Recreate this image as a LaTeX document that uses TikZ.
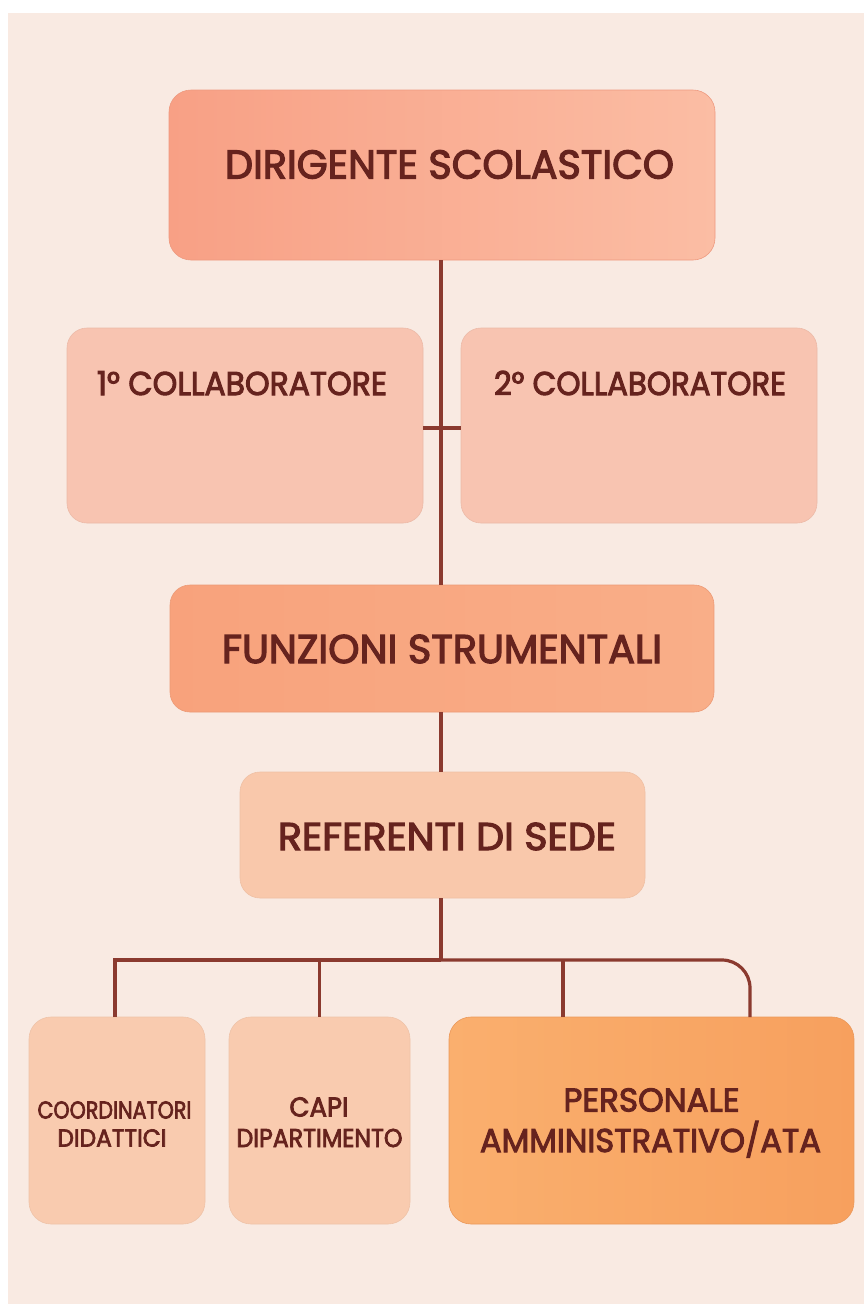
\documentclass[tikz,border=0pt]{standalone}
\usepackage{fontspec}
\usepackage{graphicx}
\newfontfamily\pf[FakeBold=3]{Poppins}
\definecolor{bgc}{HTML}{F9EAE2}
\definecolor{txc}{HTML}{66231E}
\definecolor{lnc}{HTML}{8B3A2F}
\definecolor{dirL}{HTML}{F8A085}
\definecolor{dirR}{HTML}{FBBDA4}
\definecolor{colc}{HTML}{F8C4B1}
\definecolor{funL}{HTML}{F8A27C}
\definecolor{funR}{HTML}{F9AE88}
\definecolor{refc}{HTML}{F9C8AB}
\definecolor{botc}{HTML}{F9CBAF}
\definecolor{perL}{HTML}{FAAF6E}
\definecolor{perR}{HTML}{F7A05E}
\newcommand{\fitt}[3]{\resizebox{#1pt}{#2pt}{\fontsize{36}{40}\selectfont\pf\raisebox{0pt}[\fontcharht\font`H][0pt]{#3}}}
\tikzset{
  box/.style={rounded corners=20pt, inner sep=0pt, outer sep=0pt, line width=0.6pt},
  lbl/.style={inner sep=0pt, outer sep=0pt, text=txc},
  conn/.style={draw=lnc, line width=3.2pt}
}
\begin{document}
\begin{tikzpicture}[x=1pt,y=-1pt]
\useasboundingbox (0,0) rectangle (864,1304);
\fill[bgc] (8,13) rectangle (864,1304);
% boxes
\node[box, rounded corners=22pt, left color=dirL, right color=dirR, draw=dirL!96!black, minimum width=546pt, minimum height=170pt] (dir) at (442,175) {};
\node[box, fill=colc, draw=colc!95!black, minimum width=356pt, minimum height=195pt] (c1) at (245,425.5) {};
\node[box, fill=colc, draw=colc!95!black, minimum width=356pt, minimum height=195pt] (c2) at (639,425.5) {};
\node[box, left color=funL, right color=funR, draw=funL!95!black, minimum width=544pt, minimum height=127pt] (fun) at (442,648.5) {};
\node[box, fill=refc, draw=refc!96!black, minimum width=405pt, minimum height=126pt] (ref) at (442.5,835) {};
\node[box, rounded corners=22pt, fill=botc, draw=botc!96!black, minimum width=176pt, minimum height=207pt] (coord) at (117,1120.5) {};
\node[box, rounded corners=22pt, fill=botc, draw=botc!96!black, minimum width=181pt, minimum height=207pt] (capi) at (319.5,1120.5) {};
\node[box, rounded corners=22pt, left color=perL, right color=perR, draw=perR!95!black, minimum width=405pt, minimum height=207pt] (pers) at (651.5,1120.5) {};
% labels
\node[lbl] (tdir) at (449.5,164.5) {\fitt{449}{28}{DIRIGENTE SCOLASTICO}};
\node[lbl] (tc1) at (242,383.5) {\fitt{290}{23}{1° COLLABORATORE}};
\node[lbl] (tc2) at (640,383.5) {\fitt{292}{23}{2° COLLABORATORE}};
\node[lbl] (tfun) at (442,649) {\fitt{440}{28}{FUNZIONI STRUMENTALI}};
\node[lbl] (tref) at (447,836.5) {\fitt{338}{27}{REFERENTI DI SEDE}};
\node[lbl] (tco1) at (114.5,1110) {\fitt{154}{17}{COORDINATORI}};
\node[lbl] (tco2) at (112,1138) {\fitt{109}{17}{DIDATTICI}};
\node[lbl] (tca1) at (319,1107) {\fitt{59}{19}{CAPI}};
\node[lbl] (tca2) at (319.5,1138) {\fitt{166}{18}{DIPARTIMENTO}};
\node[lbl] (tpe1) at (651.5,1100) {\fitt{176}{23}{PERSONALE}};
\node[lbl] (tpe2) at (650.5,1140.5) {\fitt{341}{23}{AMMINISTRATIVO/ATA}};
% connectors
\coordinate (bus) at (441,960);
\coordinate (pl) at (563,1017);
\coordinate (pr) at (750,1017);
\draw[conn] ([xshift=-1pt]dir.south) -- ([xshift=-1pt]fun.north);
\draw[conn] ([yshift=-2.5pt]c1.east) -- ([yshift=-2.5pt]c2.west);
\draw[conn] ([xshift=-1pt]fun.south) -- ([xshift=-1.5pt]ref.north);
\draw[conn] ([xshift=-1.5pt]ref.south) -- (bus);
\draw[conn] ([xshift=-2pt]coord.north) -- ([xshift=-2pt]coord.north |- bus) -- (bus);
\draw[conn, rounded corners=28pt] (bus) -- (pr |- bus) -- (pr);
\draw[conn] (capi.north |- bus) -- (capi.north);
\draw[conn] (pl |- bus) -- (pl);
\end{tikzpicture}
\end{document}
